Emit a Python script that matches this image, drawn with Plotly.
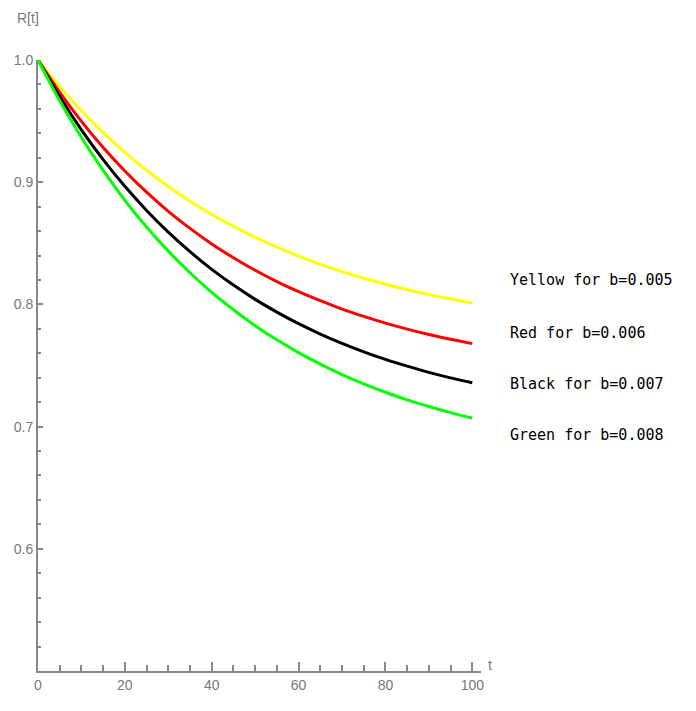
import plotly.graph_objects as go

t = [0, 5, 10, 15, 20, 25, 30, 35, 40, 45, 50, 55, 60, 65, 70, 75, 80, 85, 90, 95, 100]
yellow = [1.0, 0.9782, 0.9585, 0.9406, 0.9244, 0.9098, 0.8965, 0.8845, 0.8736, 0.8638, 0.8548,
          0.8468, 0.8395, 0.8328, 0.8268, 0.8214, 0.8165, 0.8120, 0.8080, 0.8044, 0.8011]
red = [1.0, 0.9736, 0.9498, 0.9284, 0.9092, 0.8918, 0.8762, 0.8622, 0.8495, 0.8382, 0.8279,
       0.8187, 0.8104, 0.8030, 0.7962, 0.7902, 0.7847, 0.7798, 0.7754, 0.7715, 0.7679]
black = [1.0, 0.9699, 0.9429, 0.9185, 0.8966, 0.8769, 0.8591, 0.8431, 0.8287, 0.8158, 0.8041,
         0.7937, 0.7842, 0.7757, 0.7681, 0.7612, 0.7550, 0.7495, 0.7444, 0.7399, 0.7359]
green = [1.0, 0.9666, 0.9366, 0.9096, 0.8852, 0.8633, 0.8436, 0.8259, 0.8099, 0.7956, 0.7826,
         0.7710, 0.7605, 0.7511, 0.7426, 0.7350, 0.7281, 0.7219, 0.7164, 0.7114, 0.7069]

series = [
    ("Yellow for b=0.005", yellow, "#FFFF00"),
    ("Red for b=0.006", red, "#FF0000"),
    ("Black for b=0.007", black, "#000000"),
    ("Green for b=0.008", green, "#00FF00"),
]

x_ticks = [0, 20, 40, 60, 80, 100]
y_ticks = [0.6, 0.7, 0.8, 0.9, 1.0]
y_tick_labels = ["0.6", "0.7", "0.8", "0.9", "1.0"]

fig = go.Figure()
for name, vals, col in series:
    fig.add_trace(go.Scatter(x=t, y=vals, mode="lines", name=name,
                             line=dict(color=col, width=3, shape="spline", smoothing=0.8),
                             showlegend=False))

axis_col = "#888888"
lab_font = dict(family="Liberation Sans, Arial, sans-serif", size=14, color="#777777")

fig.update_layout(
    width=680, height=695,
    margin=dict(l=30, r=207, t=52, b=32),
    plot_bgcolor="white", paper_bgcolor="white",
    xaxis=dict(range=[0, 102], tickvals=x_ticks, ticks="inside", ticklen=9,
               tickcolor=axis_col, tickwidth=1.5, automargin=False,
               showline=True, linecolor=axis_col, linewidth=2,
               showgrid=False, zeroline=False, tickfont=lab_font,
               minor=dict(dtick=5, tick0=0, ticks="inside", ticklen=6,
                          tickcolor=axis_col, tickwidth=1.5, showgrid=False)),
    yaxis=dict(range=[0.5, 1.0], tickvals=y_ticks, ticktext=y_tick_labels,
               ticks="inside", ticklen=5, tickcolor=axis_col, tickwidth=1.5,
               automargin=False,
               showline=True, linecolor=axis_col, linewidth=2,
               showgrid=False, zeroline=False, tickfont=lab_font,
               minor=dict(dtick=0.02, tick0=0.5, ticks="inside", ticklen=3,
                          tickcolor=axis_col, tickwidth=1.5, showgrid=False)),
)

fig.add_annotation(text="R[t]", xref="paper", yref="paper", x=-0.023, y=1.069,
                   showarrow=False, font=lab_font, xanchor="center", yanchor="middle")
fig.add_annotation(text="t", xref="paper", yref="paper", x=1.02, y=0.01,
                   showarrow=False, font=lab_font, xanchor="center", yanchor="middle")

legend_y = [0.64, 0.5525, 0.47, 0.387]
for (name, vals, col), ly in zip(series, legend_y):
    fig.add_annotation(text=name, xref="paper", yref="paper", x=1.0617, y=ly,
                       showarrow=False, xanchor="left", yanchor="middle",
                       font=dict(family="DejaVu Sans Mono, monospace", size=15, color="#000000"))

fig.write_html("out.html")
